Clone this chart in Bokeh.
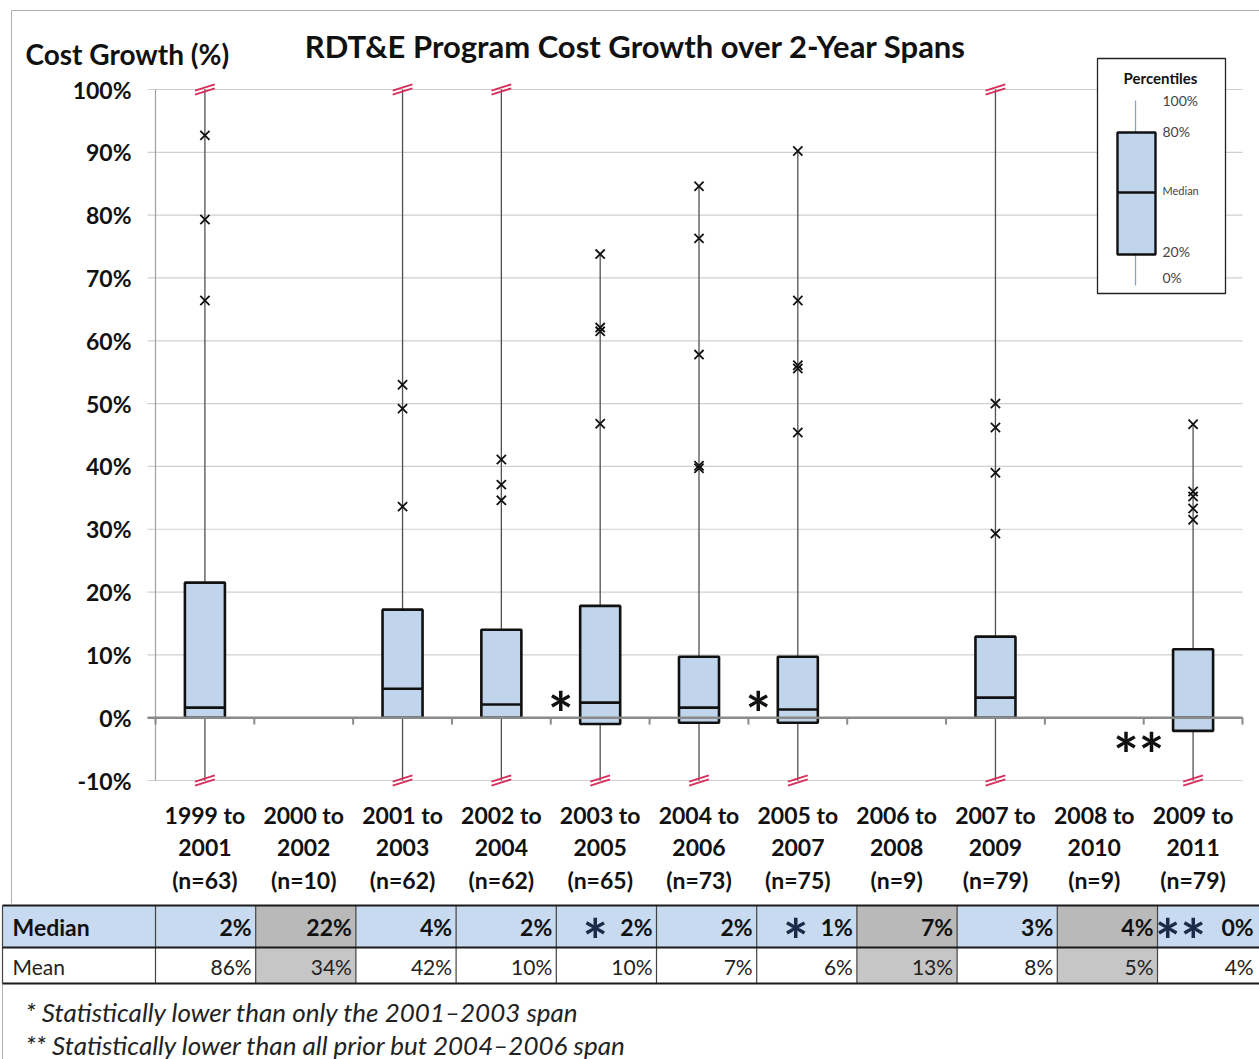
from bokeh.plotting import figure
from bokeh.models import Range1d
from bokeh.embed import file_html
from bokeh.resources import INLINE
from bokeh.core.properties import value

# ---------------- data ----------------
span_start = [1999, 2000, 2001, 2002, 2003, 2004, 2005, 2006, 2007, 2008, 2009]
span_end = [2001, 2002, 2003, 2004, 2005, 2006, 2007, 2008, 2009, 2010, 2011]
n_programs = [63, 10, 62, 62, 65, 73, 75, 9, 79, 9, 79]

# percentiles of cost growth (%) ; None = no box drawn (small sample)
pct0 = [-10, None, -10, -10, -10, -10, -10, None, -10, None, -10]
pct20 = [0.0, None, 0.0, 0.0, -1.0, -0.8, -0.8, None, 0.0, None, -2.1]
pct50 = [1.6, None, 4.6, 2.1, 2.4, 1.6, 1.3, None, 3.2, None, 0.0]
pct80 = [21.5, None, 17.2, 14.0, 17.8, 9.7, 9.7, None, 12.9, None, 10.9]
pct100 = [100, None, 100, 100, 73.8, 84.6, 90.2, None, 100, None, 46.7]
top_cut = [True, False, True, True, False, False, False, False, True, False, False]
bottom_cut = [True, False, True, True, True, True, True, False, True, False, True]

outlier_values = [
    [92.7, 79.3, 66.4],
    [],
    [53.0, 49.2, 33.6],
    [41.1, 37.1, 34.6],
    [73.8, 62.1, 61.5, 46.8],
    [84.6, 76.3, 57.8, 40.1, 39.7],
    [90.2, 66.4, 56.1, 55.6, 45.4],
    [],
    [50.0, 46.2, 39.0, 29.3],
    [],
    [46.7, 36.0, 35.2, 33.3, 31.5],
]

median_table = [2, 22, 4, 2, 2, 2, 1, 7, 3, 4, 0]
mean_table = [86, 34, 42, 10, 10, 7, 6, 13, 8, 5, 4]
sig_marks = ["", "", "", "", "*", "", "*", "", "", "", "**"]

y_ticks = [-10, 0, 10, 20, 30, 40, 50, 60, 70, 80, 90, 100]

title_text = "RDT&E Program Cost Growth over 2-Year Spans"
ylabel_text = "Cost Growth (%)"
row_names = ["Median", "Mean"]
footnotes = ["* Statistically lower than only the 2001\u20132003 span",
             "** Statistically lower than all prior but 2004\u20132006 span"]
legend_title = "Percentiles"
legend_labels = ["100%", "80%", "Median", "20%", "0%"]

# ---------------- layout / style constants (page pixels) ----------------
FONT = value("Lato")
BOX_FILL = "#c0d4eb"
BREAK_RED = "#d8305c"
W, H = 1259, 1059
X0, X1 = 155.0, 1242.0          # plot area left / right
CAT_W = (X1 - X0) / 11.0
Y_ZERO = 717.2                  # page y of 0 %
PX_PCT = 6.282                  # pixels per 1 %


def dx(px):
    return (px - X0) / CAT_W


def dy(py):
    return (Y_ZERO - py) / PX_PCT


ncat = len(span_start)

p = figure(width=W, height=H, x_range=Range1d(dx(0), dx(W)), y_range=Range1d(dy(H), dy(0)),
           output_backend="svg", toolbar_location=None, min_border=0,
           x_axis_location=None, y_axis_location=None)
p.outline_line_color = None
p.xgrid.visible = False
p.ygrid.visible = False
p.background_fill_color = "white"

# outer frame lines
p.segment(x0=[dx(11), dx(11)], y0=[dy(10), dy(10)], x1=[dx(W), dx(11)], y1=[dy(10), dy(903)],
          line_color="#b0b0b0", line_width=1)
p.segment(x0=[dx(2)], y0=[dy(983)], x1=[dx(2)], y1=[dy(H)], line_color="#b0b0b0", line_width=1)

# horizontal gridlines + y tick labels
p.segment(x0=[dx(147)] * len(y_ticks), x1=[dx(X1)] * len(y_ticks), y0=y_ticks, y1=y_ticks,
          line_color="#d0d0d0", line_width=1.2)
p.text(x=[dx(131)] * len(y_ticks), y=y_ticks, text=[f"{t}%" for t in y_ticks], text_font=FONT,
       text_font_size="23px", text_font_style="bold", text_color="#111111",
       text_align="right", text_baseline="middle")

# vertical axis line
p.segment(x0=[0], y0=[y_ticks[0]], x1=[0], y1=[y_ticks[-1]], line_color="#a0a0a0", line_width=1.2)

# category labels (three lines)
cx = [i + 0.5 for i in range(ncat)]
for lines, py in (([f"{s} to" for s in span_start], 814),
                  ([f"{e}" for e in span_end], 847),
                  ([f"(n={n})" for n in n_programs], 879)):
    p.text(x=cx, y=[dy(py)] * ncat, text=lines, text_font=FONT, text_font_size="23px",
           text_font_style="bold", text_color="#111111", text_align="center",
           text_baseline="middle")

idx = [i for i in range(ncat) if pct50[i] is not None]
xc = [i + 0.5 for i in idx]

# whiskers
p.segment(x0=xc, x1=xc, y0=[pct0[i] for i in idx], y1=[pct100[i] for i in idx],
          line_color="#505050", line_width=1.3)

# axis-break marks
bx0, bx1, by0, by1 = [], [], [], []
for i in idx:
    for flag, v in ((top_cut[i], pct100[i]), (bottom_cut[i], pct0[i])):
        if flag:
            for off in (-0.32, 0.32):
                bx0.append(i + 0.5 - 0.1)
                bx1.append(i + 0.5 + 0.1)
                by0.append(v - 0.5 + off)
                by1.append(v + 0.5 + off)
p.segment(x0=bx0, x1=bx1, y0=by0, y1=by1, line_color=BREAK_RED, line_width=2)

# boxes and medians
p.vbar(x=xc, width=0.405, bottom=[pct20[i] for i in idx], top=[pct80[i] for i in idx],
       fill_color=BOX_FILL, line_color="#111111", line_width=2.6)
p.segment(x0=[x - 0.2025 for x in xc], x1=[x + 0.2025 for x in xc],
          y0=[pct50[i] for i in idx], y1=[pct50[i] for i in idx],
          line_color="#111111", line_width=2.6)

# zero line with category ticks
p.segment(x0=[dx(147)], x1=[ncat], y0=[0], y1=[0], line_color="#8a8a8a", line_width=2.6)
p.segment(x0=list(range(ncat + 1)), x1=list(range(ncat + 1)), y0=[0] * (ncat + 1),
          y1=[-1.1] * (ncat + 1), line_color="#8a8a8a", line_width=2)

# outliers
ox, oy = [], []
for i, vals in enumerate(outlier_values):
    for v in vals:
        ox.append(i + 0.5)
        oy.append(v)
p.scatter(x=ox, y=oy, marker="x", size=13, line_color="#111111", line_width=1.8)

# significance marks in chart
sx, sy, st = [], [], []
for i, m in enumerate(sig_marks):
    if m:
        sx.append(i + 0.5 - (0.40 if m == "*" else 0.55))
        sy.append(0.8 if m == "*" else -5.7)
        st.append(m)
p.text(x=sx, y=sy, text=st, text_font=FONT, text_font_size="60px", text_font_style="bold",
       text_color="#111111", text_align="center", text_baseline="alphabetic")

# percentile key
p.quad(left=[dx(1097)], right=[dx(1225)], top=[dy(58)], bottom=[dy(293)],
       fill_color="white", line_color="#222222", line_width=1.3)
p.text(x=[dx(1160)], y=[dy(77)], text=[legend_title], text_font=FONT, text_font_size="15px",
       text_font_style="bold", text_color="#111111", text_align="center", text_baseline="middle")
p.segment(x0=[dx(1135)], x1=[dx(1135)], y0=[dy(100)], y1=[dy(285)], line_color="#8fa3bd", line_width=1.3)
p.quad(left=[dx(1117)], right=[dx(1155)], top=[dy(132)], bottom=[dy(254)],
       fill_color=BOX_FILL, line_color="#111111", line_width=2.4)
p.segment(x0=[dx(1117)], x1=[dx(1155)], y0=[dy(192)], y1=[dy(192)], line_color="#111111", line_width=2.4)
leg_y = [100, 131, 190, 251, 277]
leg_size = ["14px", "14px", "11px", "14px", "14px"]
p.text(x=[dx(1162)] * 5, y=[dy(v) for v in leg_y], text=legend_labels, text_font=FONT,
       text_font_size=leg_size, text_color="#444444", text_align="left", text_baseline="middle")

# titles
p.text(x=[dx(635)], y=[dy(45)], text=[title_text], text_font=FONT, text_font_size="31px",
       text_font_style="bold", text_color="#111111", text_align="center", text_baseline="middle")
p.text(x=[dx(25)], y=[dy(53)], text=[ylabel_text], text_font=FONT, text_font_size="28px",
       text_font_style="bold", text_color="#111111", text_align="left", text_baseline="middle")

# ---------------- summary table ----------------
TCOL = 100.2
ROW_T, ROW_M, ROW_B = 905, 947, 983
col_left = [X0 + TCOL * i for i in range(ncat)]
col_right = [X0 + TCOL * (i + 1) for i in range(ncat)]

p.quad(left=[dx(2)], right=[dx(W)], top=[dy(ROW_T)], bottom=[dy(ROW_M)], fill_color="#c8daf0", line_color=None)
gray = [i for i in range(ncat) if pct50[i] is None]
p.quad(left=[dx(col_left[i]) for i in gray], right=[dx(col_right[i]) for i in gray],
       top=[dy(ROW_T)] * len(gray), bottom=[dy(ROW_M)] * len(gray), fill_color="#b9b9b9", line_color=None)
p.quad(left=[dx(col_left[i]) for i in gray], right=[dx(col_right[i]) for i in gray],
       top=[dy(ROW_M)] * len(gray), bottom=[dy(ROW_B)] * len(gray), fill_color="#c6c6c6", line_color=None)
vx = [2] + col_left
p.segment(x0=[dx(v) for v in vx], x1=[dx(v) for v in vx], y0=[dy(ROW_T)] * len(vx),
          y1=[dy(ROW_B)] * len(vx), line_color="#444444", line_width=1.2)
p.segment(x0=[dx(2)] * 3, x1=[dx(W)] * 3, y0=[dy(v) for v in (ROW_T, ROW_M, ROW_B)],
          y1=[dy(v) for v in (ROW_T, ROW_M, ROW_B)], line_color="#1a1a1a", line_width=2.2)

p.text(x=[dx(12)], y=[dy(926)], text=[row_names[0]], text_font=FONT, text_font_size="23px",
       text_font_style="bold", text_color="#111111", text_baseline="middle")
p.text(x=[dx(12)], y=[dy(966)], text=[row_names[1]], text_font=FONT, text_font_size="21px",
       text_color="#222222", text_baseline="middle")
p.text(x=[dx(r - 4) for r in col_right], y=[dy(926)] * ncat, text=[f"{v}%" for v in median_table],
       text_font=FONT, text_font_size="23px", text_font_style="bold",
       text_color="#111111", text_align="right", text_baseline="middle")
p.text(x=[dx(r - 4) for r in col_right], y=[dy(966)] * ncat, text=[f"{v}%" for v in mean_table],
       text_font=FONT, text_font_size="21px", text_color="#222222",
       text_align="right", text_baseline="middle")
tsx, tst = [], []
for i, m in enumerate(sig_marks):
    if m:
        tsx.append(dx(col_left[i] + (39 if m == "*" else 23)))
        tst.append(m)
p.text(x=tsx, y=[dy(939)] * len(tsx), text=tst, text_font=FONT, text_font_size="60px",
       text_font_style="bold", text_color="#1c2a4a", text_align="center", text_baseline="alphabetic")

# footnotes
p.text(x=[dx(25), dx(25)], y=[dy(1011), dy(1044)], text=footnotes, text_font=FONT,
       text_font_size="26px", text_font_style="italic", text_color="#222222", text_baseline="middle")

open("out.html", "w").write(file_html(p, INLINE))
